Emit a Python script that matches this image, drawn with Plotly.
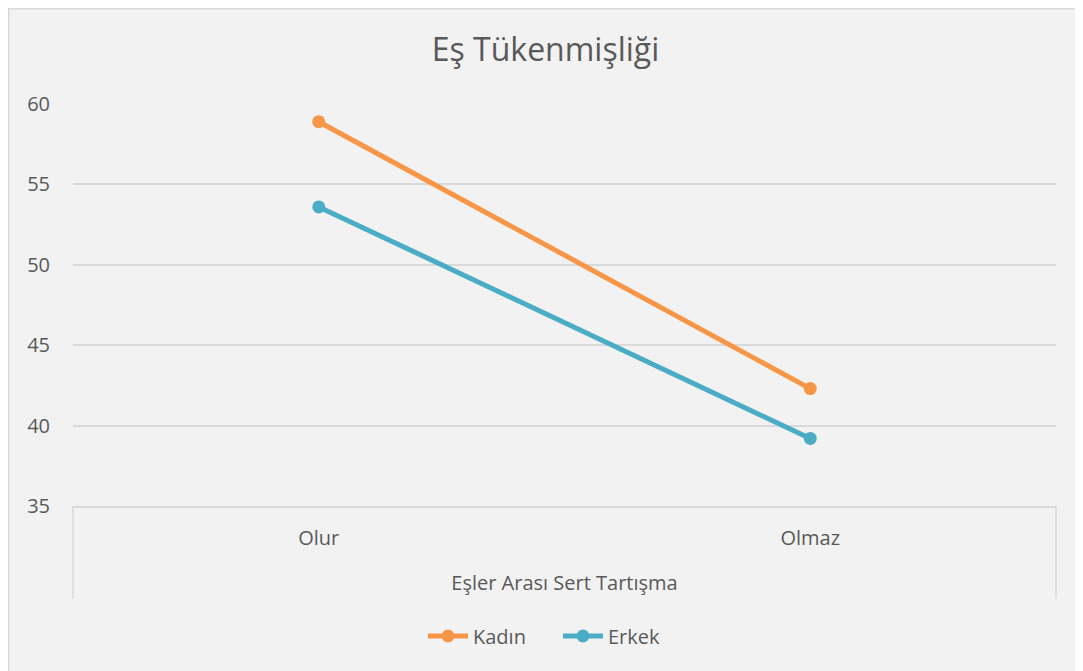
import plotly.graph_objects as go

categories = ["Olur", "Olmaz"]
kadin = [58.9, 42.3]
erkek = [53.6, 39.2]
y_ticks = [35, 40, 45, 50, 55, 60]

# the page places the figure 8px right/down (body margin); work in figure px
OFF = 8
W, H = 1083 - OFF, 671 - OFF
L, R, T, B = 73 - OFF, 27, 104 - OFF, 165
pw = W - L - R
ph = H - T - B

txt = "#595959"
font = "Open Sans, DejaVu Sans, sans-serif"

fig = go.Figure()
fig.add_trace(go.Scatter(x=categories, y=kadin, name="Kadın", mode="lines+markers",
                         line=dict(color="#F79646", width=5),
                         marker=dict(size=13, color="#F79646")))
fig.add_trace(go.Scatter(x=categories, y=erkek, name="Erkek", mode="lines+markers",
                         line=dict(color="#4BACC6", width=5),
                         marker=dict(size=13, color="#4BACC6")))

def px_x(p):
    return (p - OFF - L) / pw

def px_y(p):
    return (H - B - (p - OFF)) / ph

shapes = [
    dict(type="rect", xref="paper", yref="paper", x0=px_x(8.75), x1=px_x(1090),
         y0=px_y(680), y1=px_y(8.75), fillcolor="#f2f2f2",
         line=dict(color="#d9d9d9", width=1.5), layer="below"),
    dict(type="line", xref="paper", yref="paper", x0=0, x1=0, y0=0, y1=px_y(599),
         line=dict(color="#d9d9d9", width=1.5)),
    dict(type="line", xref="paper", yref="paper", x0=1, x1=1, y0=0, y1=px_y(599),
         line=dict(color="#d9d9d9", width=1.5)),
]

fig.update_layout(
    width=W, height=H,
    margin=dict(l=L, r=R, t=T, b=B),
    paper_bgcolor="white",
    plot_bgcolor="rgba(0,0,0,0)",
    font=dict(family=font, color=txt, size=20),
    title=dict(text="Eş Tükenmişliği", x=0.5, xanchor="center", xref="container",
               y=1 - (50 - OFF) / H, yanchor="middle", font=dict(size=32, color=txt)),
    xaxis=dict(type="category", range=[-0.5, 1.5], showgrid=False, zeroline=False,
               showline=True, linecolor="#d9d9d9", linewidth=1.5, ticks="",
               ticklabelstandoff=13, tickfont=dict(size=20, color=txt),
               title=dict(text="Eşler Arası Sert Tartışma", standoff=26,
                          font=dict(size=20, color=txt))),
    yaxis=dict(range=[35, 60], tickvals=y_ticks, showgrid=True, gridcolor="#d9d9d9",
               gridwidth=1.5, zeroline=False, showline=False, ticks="",
               ticklabelstandoff=22, tickfont=dict(size=20, color=txt)),
    legend=dict(orientation="h", x=px_x(558), xanchor="center", y=px_y(636),
                yanchor="middle", font=dict(size=20, color=txt),
                bgcolor="rgba(0,0,0,0)", itemwidth=40, tracegroupgap=0,
                entrywidth=80),
    shapes=shapes,
    showlegend=True,
)

fig.write_html("out.html")
